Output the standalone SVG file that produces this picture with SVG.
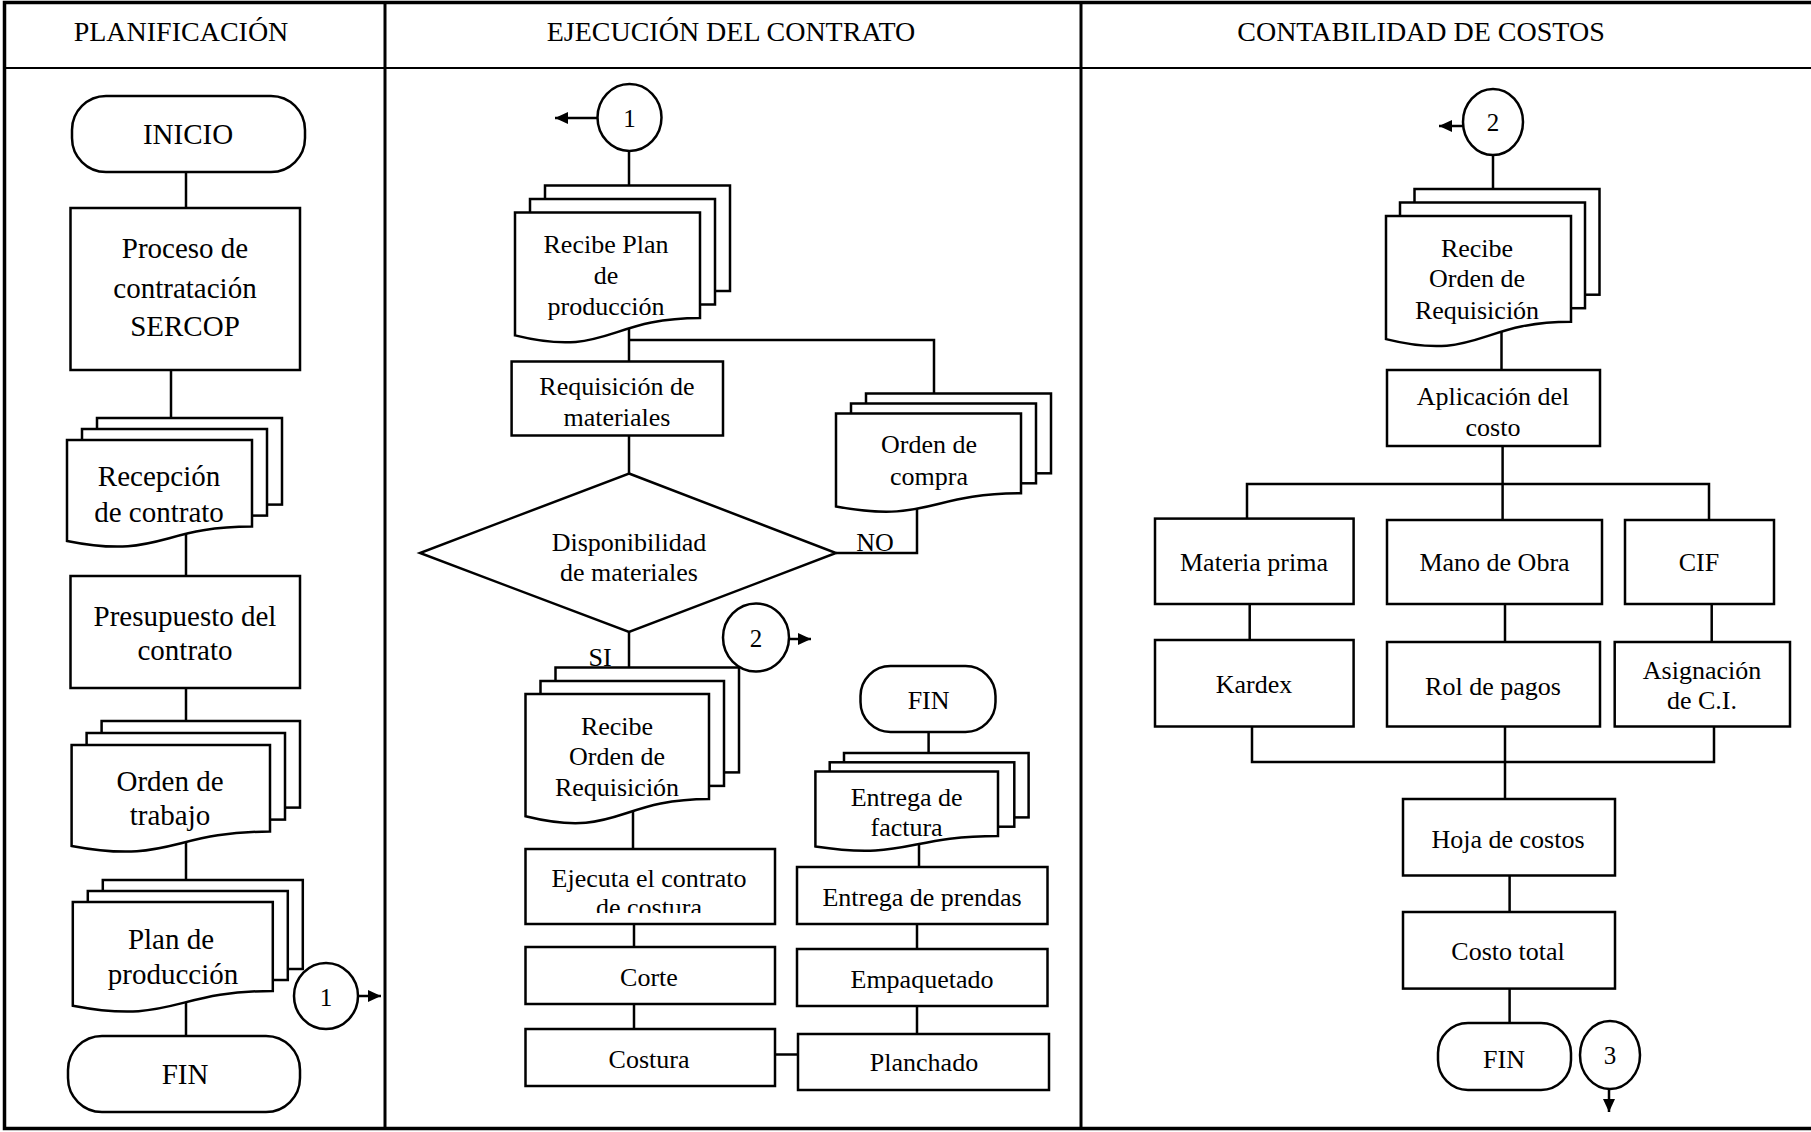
<svg xmlns="http://www.w3.org/2000/svg" width="1811" height="1132" viewBox="0 0 1811 1132">
<style>
.s{fill:#fff;stroke:#000;stroke-width:2.5}
.l{fill:none;stroke:#000;stroke-width:2.5}
.a{fill:none;stroke:#000;stroke-width:2.5;marker-end:url(#ah)}
text{font-family:"Liberation Serif","Times New Roman",serif;text-anchor:middle;dominant-baseline:central;fill:#000}
.h{font-size:28px}
.f29{font-size:29px}
.f26{font-size:26px}
.n{font-size:25px}
</style>
<defs>
<marker id="ah" markerUnits="userSpaceOnUse" markerWidth="14" markerHeight="12" refX="13" refY="6" orient="auto">
<path d="M0,0 L13,6 L0,12 Z" fill="#000"/>
</marker>
<clipPath id="cEj"><rect x="525" y="849" width="251" height="64"/></clipPath>
</defs>
<rect width="1811" height="1132" fill="#fff"/>

<g id="frame">
<rect x="4.5" y="2.5" width="1820" height="1126" fill="none" stroke="#000" stroke-width="3.5"/>
<line x1="4" y1="68" x2="1811" y2="68" stroke="#000" stroke-width="2"/>
<line x1="385" y1="2" x2="385" y2="1129" stroke="#000" stroke-width="3"/>
<line x1="1081" y1="2" x2="1081" y2="1129" stroke="#000" stroke-width="3"/>
<text class="h" x="181" y="31">PLANIFICACIÓN</text>
<text class="h" x="731" y="31">EJECUCIÓN DEL CONTRATO</text>
<text class="h" x="1421" y="31">CONTABILIDAD DE COSTOS</text>
</g>

<g id="connectors">
<!-- left -->
<line class="l" x1="186" y1="172" x2="186" y2="208"/>
<line class="l" x1="171" y1="370" x2="171" y2="418"/>
<line class="l" x1="186" y1="534" x2="186" y2="576"/>
<line class="l" x1="186" y1="688" x2="186" y2="721"/>
<line class="l" x1="186" y1="842" x2="186" y2="880"/>
<line class="l" x1="186" y1="1002" x2="186" y2="1036"/>
<line class="a" x1="358" y1="996" x2="381" y2="996"/>
<!-- middle -->
<line class="a" x1="597" y1="118" x2="555" y2="118"/>
<line class="l" x1="629" y1="151" x2="629" y2="185.5"/>
<line class="l" x1="629" y1="328" x2="629" y2="361.5"/>
<polyline class="l" points="629,340 934,340 934,393.5"/>
<line class="l" x1="629" y1="435.5" x2="629" y2="473.5"/>
<polyline class="l" points="836,553 917,553 917,508"/>
<line class="l" x1="629" y1="632" x2="629" y2="667.5"/>
<line class="a" x1="789" y1="639" x2="811" y2="639"/>
<line class="l" x1="633" y1="811" x2="633" y2="849"/>
<line class="l" x1="634" y1="924" x2="634" y2="947"/>
<line class="l" x1="634" y1="1004" x2="634" y2="1029"/>
<line class="l" x1="775" y1="1054.5" x2="798" y2="1054.5"/>
<line class="l" x1="917" y1="1006" x2="917" y2="1034"/>
<line class="l" x1="917" y1="924" x2="917" y2="949"/>
<line class="l" x1="919" y1="843" x2="919" y2="867"/>
<line class="l" x1="928.6" y1="732" x2="928.6" y2="753"/>
<!-- right -->
<line class="a" x1="1463" y1="126" x2="1439" y2="126"/>
<line class="l" x1="1493" y1="155" x2="1493" y2="189"/>
<line class="l" x1="1501.5" y1="331" x2="1501.5" y2="370"/>
<line class="l" x1="1502.6" y1="446" x2="1502.6" y2="520"/>
<path class="l" d="M1247,519 V484 H1709 V520"/>
<line class="l" x1="1249.7" y1="604" x2="1249.7" y2="640"/>
<line class="l" x1="1505" y1="604" x2="1505" y2="642"/>
<line class="l" x1="1711.7" y1="604" x2="1711.7" y2="642"/>
<path class="l" d="M1252,726.5 V762 H1714 V726.5"/>
<line class="l" x1="1505" y1="726.5" x2="1505" y2="799"/>
<line class="l" x1="1509.6" y1="875.5" x2="1509.6" y2="912"/>
<line class="l" x1="1509.6" y1="988.6" x2="1509.6" y2="1023"/>
<line class="a" x1="1609" y1="1089" x2="1609" y2="1112"/>
</g>

<!-- LEFT COLUMN -->
<g id="inicio">
<rect class="s" x="72" y="96" width="233" height="76" rx="34"/>
<text class="f29" x="188" y="134">INICIO</text>
</g>
<g id="proceso">
<rect class="s" x="70.5" y="208" width="229.5" height="162"/>
<text class="f29" x="185" y="248">Proceso de</text>
<text class="f29" x="185" y="288">contratación</text>
<text class="f29" x="185" y="326">SERCOP</text>
</g>
<g id="recepcion">
<rect class="s" x="97" y="418" width="185" height="86.6"/>
<rect class="s" x="82" y="429" width="185" height="86.6"/>
<path class="s" d="M67,440 H252 V526.6 C159.5,526.6 159.5,559.6 67,540.9 Z"/>
<text class="f29" x="159" y="476">Recepción</text>
<text class="f29" x="159" y="512">de contrato</text>
</g>
<g id="presupuesto">
<rect class="s" x="70.5" y="576" width="229.5" height="112"/>
<text class="f29" x="185" y="616">Presupuesto del</text>
<text class="f29" x="185" y="650">contrato</text>
</g>
<g id="orden-trabajo">
<rect class="s" x="101.6" y="721" width="198.4" height="86.6"/>
<rect class="s" x="86.6" y="733" width="198.4" height="86.6"/>
<path class="s" d="M71.6,745 H270 V831.6 C170.8,831.6 170.8,864.6 71.6,845.9 Z"/>
<text class="f29" x="170" y="781">Orden de</text>
<text class="f29" x="170" y="815">trabajo</text>
</g>
<g id="plan-produccion">
<rect class="s" x="102.8" y="880" width="200" height="89"/>
<rect class="s" x="87.8" y="891" width="200" height="89"/>
<path class="s" d="M72.8,902 H272.8 V991 C172.8,991 172.8,1024.9 72.8,1005.7 Z"/>
<text class="f29" x="171" y="939">Plan de</text>
<text class="f29" x="173" y="974">producción</text>
</g>
<g id="fin-1">
<rect class="s" x="68" y="1036" width="232" height="76" rx="34"/>
<text class="f29" x="185" y="1074">FIN</text>
</g>
<g id="conn-1-out">
<ellipse class="s" cx="326" cy="996" rx="32" ry="33"/>
<text class="n" x="326" y="997">1</text>
</g>

<!-- MIDDLE COLUMN -->
<g id="conn-1-in">
<ellipse class="s" cx="629.5" cy="117.5" rx="32" ry="33.5"/>
<text class="n" x="629.5" y="118">1</text>
</g>
<g id="recibe-plan">
<rect class="s" x="545" y="185.5" width="185" height="105.5"/>
<rect class="s" x="530" y="199" width="185" height="105.5"/>
<path class="s" d="M515,212.5 H700 V318 C607.5,318 607.5,358.2 515,335.4 Z"/>
<text class="f26" x="606" y="244">Recibe Plan</text>
<text class="f26" x="606" y="275">de</text>
<text class="f26" x="606" y="306">producción</text>
</g>
<g id="requisicion">
<rect class="s" x="511.6" y="361.5" width="211.4" height="74"/>
<text class="f26" x="617" y="386">Requisición de</text>
<text class="f26" x="617" y="417">materiales</text>
</g>
<g id="disponibilidad">
<polygon class="s" points="629,473.5 836,553 629,632 420,553"/>
<text class="f26" x="629" y="542">Disponibilidad</text>
<text class="f26" x="629" y="572">de materiales</text>
<text class="f26" x="875" y="542">NO</text>
<text class="f26" x="600" y="657">SI</text>
</g>
<g id="orden-compra">
<rect class="s" x="866" y="393.5" width="185" height="79.8"/>
<rect class="s" x="851" y="403.5" width="185" height="79.8"/>
<path class="s" d="M836,413.5 H1021 V493.3 C928.5,493.3 928.5,523.7 836,506.4 Z"/>
<text class="f26" x="929" y="444">Orden de</text>
<text class="f26" x="929" y="476">compra</text>
</g>
<g id="recibe-orden-1">
<rect class="s" x="555.5" y="667.5" width="183.5" height="104.9"/>
<rect class="s" x="540.5" y="681" width="183.5" height="104.9"/>
<path class="s" d="M525.5,694 H709 V798.9 C617.3,798.9 617.3,838.9 525.5,816.2 Z"/>
<text class="f26" x="617" y="726.5">Recibe</text>
<text class="f26" x="617" y="756.5">Orden de</text>
<text class="f26" x="617" y="787.7">Requisición</text>
</g>
<g id="conn-2-out">
<ellipse class="s" cx="756" cy="637.5" rx="33" ry="34"/>
<text class="n" x="756" y="638">2</text>
</g>
<g id="ejecuta">
<rect class="s" x="525.5" y="849" width="249.5" height="75"/>
<g clip-path="url(#cEj)">
<text class="f26" x="649" y="878">Ejecuta el contrato</text>
<text class="f26" x="649" y="907">de costura</text>
</g>
</g>
<g id="corte">
<rect class="s" x="525.5" y="947" width="249.5" height="57"/>
<text class="f26" x="649" y="977">Corte</text>
</g>
<g id="costura">
<rect class="s" x="525.5" y="1029" width="249.5" height="57"/>
<text class="f26" x="649" y="1059">Costura</text>
</g>
<g id="planchado">
<rect class="s" x="798" y="1034" width="251" height="56"/>
<text class="f26" x="924" y="1062.5">Planchado</text>
</g>
<g id="empaquetado">
<rect class="s" x="797" y="949" width="250.5" height="57"/>
<text class="f26" x="922" y="979">Empaquetado</text>
</g>
<g id="entrega-prendas">
<rect class="s" x="797" y="867" width="250.5" height="57"/>
<text class="f26" x="922" y="897">Entrega de prendas</text>
</g>
<g id="entrega-factura">
<rect class="s" x="844" y="753" width="184.6" height="64.4"/>
<rect class="s" x="829.7" y="762.3" width="184.6" height="64.4"/>
<path class="s" d="M815.4,771.5 H998 V835.9 C906.7,835.9 906.7,860.4 815.4,846.5 Z"/>
<text class="f26" x="906.6" y="797">Entrega de</text>
<text class="f26" x="906.6" y="827">factura</text>
</g>
<g id="fin-2">
<rect class="s" x="860.5" y="666" width="135" height="66" rx="30"/>
<text class="f26" x="928.6" y="700">FIN</text>
</g>

<!-- RIGHT COLUMN -->
<g id="conn-2-in">
<ellipse class="s" cx="1493" cy="122" rx="30" ry="33"/>
<text class="n" x="1493" y="122">2</text>
</g>
<g id="recibe-orden-2">
<rect class="s" x="1414.5" y="189" width="185" height="105.7"/>
<rect class="s" x="1400" y="202.5" width="185" height="105.7"/>
<path class="s" d="M1386,216 H1571 V321.7 C1478.5,321.7 1478.5,362 1386,339.1 Z"/>
<text class="f26" x="1477" y="248">Recibe</text>
<text class="f26" x="1477" y="278">Orden de</text>
<text class="f26" x="1477" y="310.7">Requisición</text>
</g>
<g id="aplicacion">
<rect class="s" x="1387" y="370" width="213" height="76"/>
<text class="f26" x="1493" y="396">Aplicación del</text>
<text class="f26" x="1493" y="427">costo</text>
</g>
<g id="materia-prima">
<rect class="s" x="1155" y="518.6" width="198.6" height="85.4"/>
<text class="f26" x="1254" y="562.5">Materia prima</text>
</g>
<g id="mano-obra">
<rect class="s" x="1387" y="520" width="215" height="84"/>
<text class="f26" x="1494.5" y="562.5">Mano de Obra</text>
</g>
<g id="cif">
<rect class="s" x="1625" y="520" width="149" height="84"/>
<text class="f26" x="1699" y="562.5">CIF</text>
</g>
<g id="kardex">
<rect class="s" x="1155" y="640" width="198.6" height="86.5"/>
<text class="f26" x="1254" y="684">Kardex</text>
</g>
<g id="rol-pagos">
<rect class="s" x="1387" y="642" width="213" height="84.5"/>
<text class="f26" x="1493" y="686">Rol de pagos</text>
</g>
<g id="asignacion">
<rect class="s" x="1614.7" y="642" width="175.3" height="84.5"/>
<text class="f26" x="1702" y="670">Asignación</text>
<text class="f26" x="1702" y="700">de C.I.</text>
</g>
<g id="hoja-costos">
<rect class="s" x="1403" y="799" width="212" height="76.5"/>
<text class="f26" x="1508" y="839.7">Hoja de costos</text>
</g>
<g id="costo-total">
<rect class="s" x="1403" y="912" width="212" height="76.6"/>
<text class="f26" x="1508" y="951.7">Costo total</text>
</g>
<g id="fin-3">
<rect class="s" x="1438" y="1023" width="133" height="67" rx="30"/>
<text class="f26" x="1504" y="1059">FIN</text>
</g>
<g id="conn-3">
<ellipse class="s" cx="1610" cy="1055" rx="30" ry="34"/>
<text class="n" x="1610" y="1055">3</text>
</g>
</svg>
